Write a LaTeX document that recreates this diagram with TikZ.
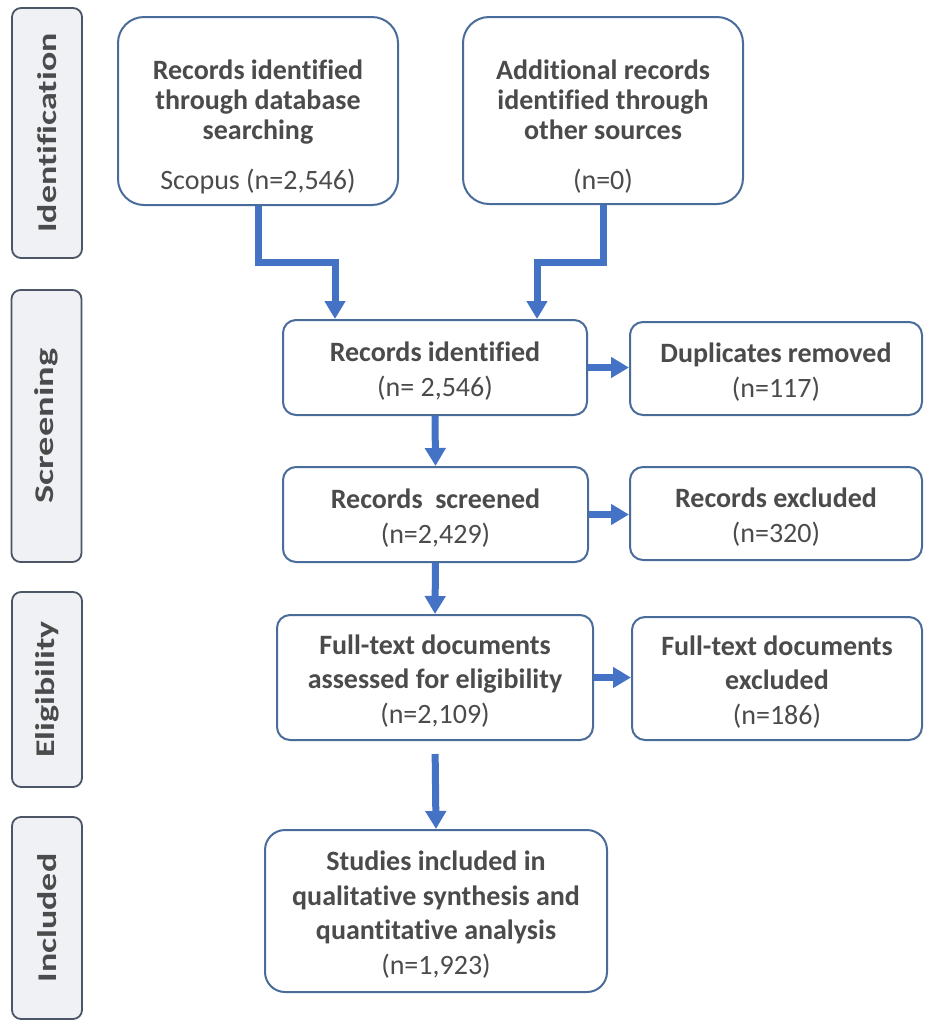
\documentclass[tikz,border=0pt]{standalone}
\usepackage{fontspec}
\setmainfont{Carlito}[Ligatures={NoCommon}]
\usetikzlibrary{arrows.meta}
\definecolor{txt}{HTML}{4B4B4B}
\definecolor{bord}{HTML}{4A6C9B}
\definecolor{arr}{HTML}{4472C4}
\definecolor{sidebord}{HTML}{4B5566}
\definecolor{sidefill}{HTML}{EFF1F5}
\tikzset{
  box/.style={draw=bord, line width=2pt, fill=white, rounded corners=13pt, inner sep=0pt},
  bigbox/.style={box, rounded corners=26pt},
  boxtext/.style={inner sep=0pt, align=center, text=txt, font=\fontsize{28}{34.5}\selectfont},
  toptext/.style={boxtext, font=\fontsize{28}{30}\selectfont},
  side/.style={draw=sidebord, line width=1.8pt, fill=sidefill, rounded corners=9pt,
    inner sep=0pt, minimum width=70pt},
  sidetext/.style={rotate=90, text=txt, font=\fontsize{27}{30}\selectfont\bfseries},
  flow/.style={draw=arr, line width=7pt, -{Triangle[length=18pt,width=20pt]}},
}
\begin{document}
\begin{tikzpicture}[x=1pt,y=-1pt]
\useasboundingbox (0,0) rectangle (925,1021);
% side bars
\node[side, minimum height=250pt] (s1) at (47,133) {};
\node[sidetext] (s1t) at (s1.center) {\scalebox{1.33}[1]{Identification}};
\node[side, minimum height=272pt] (s2) at (46.5,426) {};
\node[sidetext] (s2t) at (s2.center) {\scalebox{1.42}[1]{Screening}};
\node[side, minimum height=195pt] (s3) at (47,689.5) {};
\node[sidetext] (s3t) at (s3.center) {\scalebox{1.33}[1]{Eligibility}};
\node[side, minimum height=202pt] (s4) at (47,918) {};
\node[sidetext] (s4t) at (s4.center) {\scalebox{1.33}[1]{Included}};
% boxes
\node[bigbox, minimum width=280pt, minimum height=188pt] (b1) at (258,111) {};
\node[toptext] (b1t) at (258,127)
  {\textbf{Records identified}\\\textbf{through database}\\\textbf{searching}\\[20pt]Scopus (n=2,546)};
\node[bigbox, minimum width=280pt, minimum height=187pt] (b2) at (603,110.5) {};
\node[toptext] (b2t) at (603,127)
  {\textbf{Additional records}\\\textbf{identified through}\\\textbf{other sources}\\[20pt](n=0)};
\node[box, minimum width=304pt, minimum height=95pt] (b3) at (435,367.5) {};
\node[boxtext] (b3t) at (435,371) {\textbf{Records identified}\\(n= 2,546)};
\node[box, minimum width=292pt, minimum height=93pt] (b4) at (776,368.5) {};
\node[boxtext] (b4t) at (776,372) {\textbf{Duplicates removed}\\(n=117)};
\node[box, minimum width=305pt, minimum height=95pt] (b5) at (435.5,514.5) {};
\node[boxtext] (b5t) at (435.5,518) {\textbf{Records\ \ screened}\\(n=2,429)};
\node[box, minimum width=292pt, minimum height=93pt] (b7) at (776,513.5) {};
\node[boxtext] (b7t) at (776,517) {\textbf{Records excluded}\\(n=320)};
\node[box, minimum width=316pt, minimum height=125pt] (b6) at (435,677.5) {};
\node[boxtext] (b6t) at (435,681) {\textbf{Full-text documents}\\\textbf{assessed for eligibility}\\(n=2,109)};
\node[box, minimum width=290pt, minimum height=123pt] (b9) at (777,678.5) {};
\node[boxtext] (b9t) at (777,682) {\textbf{Full-text documents}\\\textbf{excluded}\\(n=186)};
\node[box, rounded corners=20pt, minimum width=342pt, minimum height=162pt] (b8) at (436,911) {};
\node[boxtext] (b8t) at (436,914.5)
  {\textbf{Studies included in}\\\textbf{qualitative synthesis and}\\\textbf{quantitative analysis}\\(n=1,923)};
% connectors
\coordinate (h1) at (335,262);
\coordinate (h2) at (537,262);
\draw[flow] (b1.south) |- (h1) -- (h1 |- b3.north);
\draw[flow] (b2.south) |- (h2) -- (h2 |- b3.north);
\draw[flow] (b3.east) -- (b3.east -| b4.west);
\draw[flow] (b5.east) -- (b5.east -| b7.west);
\draw[flow] (b6.east) -- (b6.east -| b9.west);
\draw[flow] (b3.south) -- (b5.north);
\draw[flow] (b5.south) -- (b6.north);
\draw[flow, shorten <=13pt] (b6.south) -- (b8.north);
\end{tikzpicture}
\end{document}
